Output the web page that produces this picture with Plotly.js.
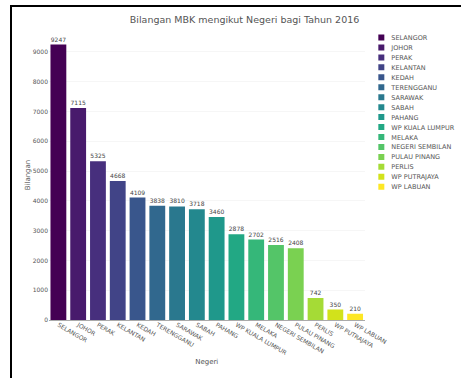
<!DOCTYPE html>
<html>
<head>
<meta charset="utf-8">
<script src="https://cdn.plot.ly/plotly-3.0.1.min.js"></script>
<style>
  html, body { margin: 0; padding: 0; background: #fff; overflow: hidden; }
  #frame {
    position: absolute; left: 10px; top: 5px;
    width: 460px; height: 380px;
    border-top: 2px solid #000; border-left: 2px solid #000;
    overflow: hidden;
  }
  #chart {
    position: absolute; left: 0; top: 0;
    width: 912px; height: 740px;
    transform: scale(0.5); transform-origin: 0 0;
  }
</style>
</head>
<body>
<div id="frame"><div id="chart"></div></div>
<script>
// Bilangan MBK by state, 2016
const negeri = [
  "SELANGOR", "JOHOR", "PERAK", "KELANTAN", "KEDAH", "TERENGGANU",
  "SARAWAK", "SABAH", "PAHANG", "WP KUALA LUMPUR", "MELAKA",
  "NEGERI SEMBILAN", "PULAU PINANG", "PERLIS", "WP PUTRAJAYA", "WP LABUAN"
];
const bilangan = [
  9247, 7115, 5325, 4668, 4109, 3838, 3810, 3718,
  3460, 2878, 2702, 2516, 2408, 742, 350, 210
];

// one viridis step per state
const warna = [
  "#440154", "#481a6c", "#472f7d", "#414487", "#39568c", "#31688e",
  "#2a788e", "#23888e", "#1f988b", "#22a884", "#35b779", "#54c568",
  "#7ad151", "#a5db36", "#d2e21b", "#fde725"
];

const traces = negeri.map((n, i) => ({
  type: "bar",
  name: n,
  x: [n],
  y: [bilangan[i]],
  text: [String(bilangan[i])],
  textposition: "outside",
  cliponaxis: false,
  textfont: { size: 12, color: "#444" },
  marker: { color: warna[i] },
  hoverinfo: "x+y"
}));

const layout = {
  width: 912,
  height: 740,
  margin: { l: 73, r: 206, t: 46, b: 114 },
  paper_bgcolor: "#fff",
  plot_bgcolor: "#fff",
  font: { family: "DejaVu Sans, Verdana, sans-serif", size: 12, color: "#555" },
  title: { text: "Bilangan MBK mengikut Negeri bagi Tahun 2016", font: { size: 19 }, x: 0.51, y: 0.975 },
  barmode: "group",
  bargap: 0.2,
  showlegend: true,
  legend: { x: 1.02, y: 1, font: { size: 13 } },
  xaxis: {
    title: { text: "Negeri", standoff: 6 },
    tickangle: 30,
    showgrid: false,
    categoryorder: "array",
    categoryarray: negeri
  },
  yaxis: {
    title: { text: "Bilangan" },
    range: [0, 9734],
    dtick: 1000,
    gridcolor: "#eee",
    zeroline: true,
    zerolinecolor: "#555",
    zerolinewidth: 1
  }
};

Plotly.newPlot("chart", traces, layout, { displayModeBar: false, staticPlot: true });
</script>
</body>
</html>
